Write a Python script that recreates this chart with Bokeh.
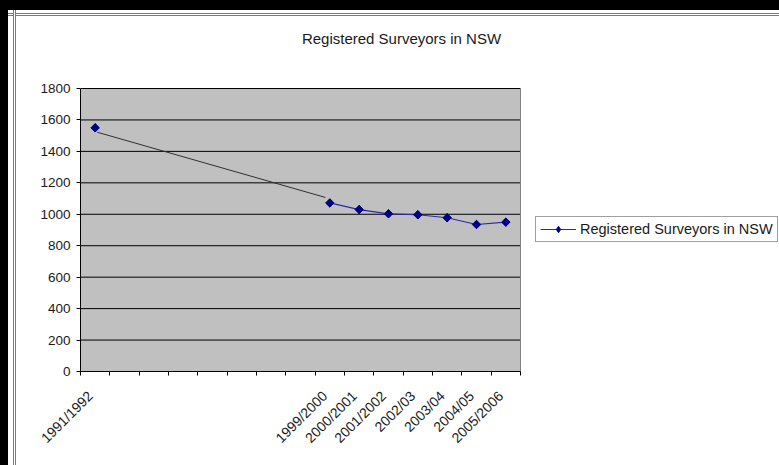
import math
from bokeh.plotting import figure
from bokeh.models import FixedTicker, Legend, LegendItem, Range1d, BoxAnnotation
from bokeh.core.properties import value
from bokeh.embed import file_html
from bokeh.resources import INLINE

# ---- data ----
categories = ["1991/1992", "", "", "", "", "", "", "", "1999/2000", "2000/2001",
              "2001/2002", "2002/03", "2003/04", "2004/05", "2005/2006"]
surveyors = [1550, None, None, None, None, None, None, None,
             1072, 1030, 1003, 997, 978, 935, 950]
# hand-drawn trend line between the two survey periods (category position, value)
connector_pos = [0.07, 7.85]
connector_val = [1522, 1107]
y_ticks = [0, 200, 400, 600, 800, 1000, 1200, 1400, 1600, 1800]
y_max = 1800
title_text = "Registered Surveyors in NSW"
series_name = "Registered Surveyors in NSW"

FONT = "Liberation Sans"

n = len(categories)
xs = [i + 0.5 for i in range(n)]
ys = [float("nan") if v is None else v for v in surveyors]

# layout (pixels)
W, H = 771, 455
LEFT, BOTTOM = 72, 94
PLOT_W, PLOT_H = 440, 283          # grey plot area
TITLE_CX, TITLE_CY = 321, 28       # title centre: from frame left / figure top
LABEL_SHIFT = -5                   # rotated tick labels sit slightly left of centre
frame_w, frame_h = W - LEFT, H - BOTTOM
px_per_cat = PLOT_W / n
x_end = frame_w / px_per_cat       # frame extends beyond the grey area
y_per_px = y_max / PLOT_H
y_end = frame_h * y_per_px

p = figure(width=W, height=H, output_backend="svg", toolbar_location=None,
           x_range=Range1d(0, x_end), y_range=Range1d(0, y_end),
           min_border_left=LEFT, min_border_right=0, min_border_top=0,
           min_border_bottom=BOTTOM)
p.margin = (10, 0, 0, 8)
frame_bg = ("linear-gradient(to right, transparent 5px, #7a7a7a 5px, #7a7a7a 6px, "
            "#ffffff 6px, #ffffff 7px, #7a7a7a 7px, #7a7a7a 8px, transparent 8px), "
            "linear-gradient(to bottom, transparent 3px, #7a7a7a 3px, #7a7a7a 4px, "
            "#ffffff 4px, #ffffff 5px, #7a7a7a 5px, #7a7a7a 6px, transparent 6px), "
            "#ffffff")
p.styles = {"background": frame_bg}

p.background_fill_color = "#ffffff"
p.background_fill_alpha = 0
p.border_fill_color = None
p.outline_line_color = None

plot_area = BoxAnnotation(left=0, right=n, bottom=0, top=y_max,
                          fill_color="#c0c0c0", fill_alpha=1,
                          line_color=None, level="image")
p.add_layout(plot_area)

# title
p.text(x=[TITLE_CX / px_per_cat], y=[y_end - TITLE_CY * y_per_px], text=[title_text],
       text_font=value(FONT), text_font_size="15px", text_color="#1a1a1a",
       text_align="center", text_baseline="middle")

# x axis
label_pos = {xs[i] + LABEL_SHIFT / px_per_cat: c for i, c in enumerate(categories) if c}
p.xaxis.bounds = (0, n)
p.xaxis.ticker = FixedTicker(ticks=list(label_pos.keys()),
                             minor_ticks=list(range(n + 1)))
p.xaxis.major_label_overrides = label_pos
p.xaxis.major_label_orientation = math.pi / 4
p.xaxis.major_tick_out = 0
p.xaxis.major_tick_in = 0
p.xaxis.minor_tick_out = 4
p.xaxis.minor_tick_in = 0
p.xaxis.minor_tick_line_color = "#000000"
p.xaxis.axis_line_color = "#000000"
p.xaxis.major_label_text_font = FONT
p.xaxis.major_label_text_font_size = "14px"
p.xaxis.major_label_text_color = "#1a1a1a"
p.xaxis.major_label_standoff = 18

# y axis
p.yaxis.bounds = (0, y_max)
p.yaxis.ticker = FixedTicker(ticks=y_ticks)
p.yaxis.major_tick_out = 4
p.yaxis.major_tick_in = 0
p.yaxis.minor_tick_line_color = None
p.yaxis.axis_line_color = "#000000"
p.yaxis.major_tick_line_color = "#000000"
p.yaxis.major_label_text_font = FONT
p.yaxis.major_label_text_font_size = "13.5px"
p.yaxis.major_label_text_color = "#1a1a1a"
p.yaxis.major_label_standoff = 6

# gridlines limited to the grey area, and its right edge
p.xgrid.grid_line_color = None
p.ygrid.grid_line_color = None
p.segment(x0=[0] * len(y_ticks), y0=y_ticks, x1=[n] * len(y_ticks), y1=y_ticks,
          line_color="#000000", line_width=1)
p.segment(x0=[n], y0=[0], x1=[n], y1=[y_max], line_color="#808080", line_width=1)

p.line(x=[c + 0.5 for c in connector_pos], y=connector_val,
       line_color="#303030", line_width=1)
r_line = p.line(x=xs, y=ys, line_color="#2a2aa8", line_width=1.2)
r_key = p.scatter(x=xs, y=ys, marker="diamond", size=8,
                  fill_color="#000080", line_color="#000080")
p.scatter(x=xs, y=ys, marker="square", size=6, angle=math.pi / 4,
          fill_color="#000080", line_color="#000080")

legend = Legend(items=[LegendItem(label=series_name, renderers=[r_line, r_key])],
                location=(455, 129), orientation="vertical")
legend.label_text_font = FONT
legend.label_text_font_size = "14.5px"
legend.label_text_color = "#1a1a1a"
legend.border_line_color = "#404040"
legend.border_line_width = 1
legend.background_fill_color = "#ffffff"
legend.glyph_width = 36
legend.glyph_height = 16
legend.label_standoff = 4
legend.padding = 4
legend.margin = 0
legend.spacing = 0
p.add_layout(legend, "center")

html = file_html(p, INLINE)
html = html.replace("</head>",
                    "<style>html,body{background:#000000;overflow:hidden;}</style></head>", 1)
open("out.html", "w").write(html)
